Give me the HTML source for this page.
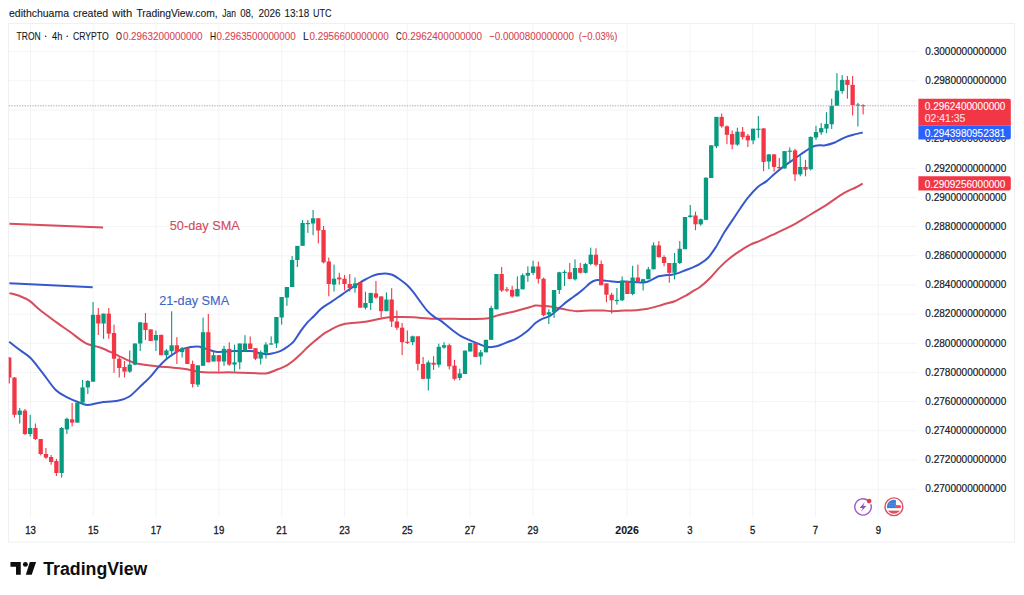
<!DOCTYPE html><html><head><meta charset="utf-8"><style>html,body{margin:0;padding:0;background:#fff;width:1024px;height:595px;overflow:hidden}svg{display:block}</style></head><body>
<svg width="1024" height="595" viewBox="0 0 1024 595">
<rect width="1024" height="595" fill="#fff"/>
<rect x="8.5" y="23.5" width="1006" height="518.5" fill="none" stroke="#eff0f2" stroke-width="1"/>
<g stroke="#f3f4f6" stroke-width="1"><line x1="9" y1="51.6" x2="917" y2="51.6"/><line x1="9" y1="80.8" x2="917" y2="80.8"/><line x1="9" y1="109.9" x2="917" y2="109.9"/><line x1="9" y1="139.1" x2="917" y2="139.1"/><line x1="9" y1="168.3" x2="917" y2="168.3"/><line x1="9" y1="197.5" x2="917" y2="197.5"/><line x1="9" y1="226.6" x2="917" y2="226.6"/><line x1="9" y1="255.8" x2="917" y2="255.8"/><line x1="9" y1="285.0" x2="917" y2="285.0"/><line x1="9" y1="314.1" x2="917" y2="314.1"/><line x1="9" y1="343.3" x2="917" y2="343.3"/><line x1="9" y1="372.5" x2="917" y2="372.5"/><line x1="9" y1="401.6" x2="917" y2="401.6"/><line x1="9" y1="430.8" x2="917" y2="430.8"/><line x1="9" y1="460.0" x2="917" y2="460.0"/><line x1="9" y1="489.2" x2="917" y2="489.2"/><line x1="30.5" y1="24" x2="30.5" y2="517"/><line x1="93.3" y1="24" x2="93.3" y2="517"/><line x1="156.1" y1="24" x2="156.1" y2="517"/><line x1="218.9" y1="24" x2="218.9" y2="517"/><line x1="281.7" y1="24" x2="281.7" y2="517"/><line x1="344.5" y1="24" x2="344.5" y2="517"/><line x1="407.3" y1="24" x2="407.3" y2="517"/><line x1="470.1" y1="24" x2="470.1" y2="517"/><line x1="532.9" y1="24" x2="532.9" y2="517"/><line x1="627.1" y1="24" x2="627.1" y2="517"/><line x1="689.9" y1="24" x2="689.9" y2="517"/><line x1="752.7" y1="24" x2="752.7" y2="517"/><line x1="815.5" y1="24" x2="815.5" y2="517"/><line x1="878.3" y1="24" x2="878.3" y2="517"/></g>
<line x1="9.4" y1="223.8" x2="103.1" y2="227.6" stroke="#d84c5c" stroke-width="2"/>
<line x1="9.4" y1="283.2" x2="92.7" y2="287.2" stroke="#3658cc" stroke-width="2"/>
<text stroke="#d04b5b" stroke-width="0.1" x="169.8" y="229.7" font-size="13" fill="#d04b5b" textLength="70" lengthAdjust="spacingAndGlyphs" font-family="Liberation Sans, sans-serif">50-day SMA</text>
<text stroke="#3e66c4" stroke-width="0.1" x="159.2" y="304.5" font-size="13" fill="#3e66c4" textLength="70" lengthAdjust="spacingAndGlyphs" font-family="Liberation Sans, sans-serif">21-day SMA</text>
<path d="M9.4 293.1 C11.2 293.6 16.8 294.9 20.2 296.2 C23.6 297.5 26.2 298.5 29.6 300.9 C33.0 303.2 35.8 306.7 40.3 310.3 C44.8 313.9 51.6 318.8 56.5 322.4 C61.4 326.0 65.0 328.3 69.9 331.8 C74.8 335.3 80.8 340.7 86.0 343.3 C91.2 345.9 95.5 345.7 100.8 347.7 C106.1 349.7 112.0 352.8 117.6 355.3 C123.2 357.8 129.1 361.2 134.5 362.9 C139.9 364.6 144.6 364.7 150.0 365.4 C155.4 366.1 161.2 366.6 166.8 367.1 C172.4 367.7 178.0 367.9 183.6 368.7 C189.2 369.5 194.8 371.5 200.4 372.1 C206.0 372.7 211.6 372.3 217.2 372.4 C222.8 372.4 228.4 372.3 234.0 372.4 C239.6 372.5 245.5 372.7 250.8 372.9 C256.1 373.1 261.8 373.9 266.0 373.4 C270.2 372.9 272.6 371.4 276.1 370.0 C279.6 368.6 284.0 366.9 286.9 365.3 C289.8 363.7 291.4 362.4 293.6 360.6 C295.8 358.8 298.1 356.6 300.3 354.5 C302.5 352.4 304.8 349.9 307.0 347.8 C309.2 345.7 311.6 343.6 313.8 341.7 C316.1 339.8 318.6 337.9 320.5 336.4 C322.4 334.9 323.1 334.1 325.0 332.9 C326.9 331.7 329.5 330.4 331.7 329.2 C333.9 328.0 336.1 326.8 338.4 325.9 C340.6 325.0 342.9 324.3 345.2 323.8 C347.4 323.3 349.7 323.1 351.9 322.9 C354.1 322.7 356.4 322.7 358.6 322.5 C360.8 322.3 363.1 322.1 365.3 321.8 C367.5 321.5 369.8 320.9 372.0 320.5 C374.2 320.1 376.6 319.6 378.8 319.1 C381.1 318.7 383.3 318.1 385.5 317.8 C387.7 317.5 390.0 317.2 392.2 317.1 C394.4 317.0 395.4 317.1 398.9 317.1 C402.4 317.1 407.6 317.0 413.4 317.3 C419.2 317.6 426.9 318.5 433.6 318.7 C440.3 318.9 448.2 318.6 453.8 318.7 C459.4 318.8 463.7 319.1 467.2 319.1 C470.7 319.1 471.5 319.0 475.0 318.9 C478.5 318.8 485.0 318.6 488.4 318.2 C491.8 317.8 492.9 316.9 495.2 316.2 C497.4 315.5 498.5 315.0 501.9 314.2 C505.2 313.4 510.8 312.3 515.3 311.2 C519.8 310.1 525.4 308.4 528.8 307.5 C532.2 306.6 533.3 305.8 535.5 305.5 C537.7 305.2 539.8 305.7 542.2 305.9 C544.6 306.1 547.6 306.2 550.0 306.5 C552.4 306.8 554.5 307.4 556.7 307.8 C558.9 308.2 560.0 308.5 563.4 309.1 C566.8 309.7 572.4 311.0 576.9 311.2 C581.4 311.4 585.8 310.6 590.3 310.5 C594.8 310.4 600.2 310.4 603.8 310.5 C607.4 310.6 608.3 311.2 611.8 311.2 C615.3 311.2 620.6 310.8 625.0 310.6 C629.4 310.4 634.6 310.2 638.4 309.9 C642.2 309.6 644.4 309.5 647.8 308.8 C651.2 308.1 655.7 306.7 658.6 305.9 C661.5 305.1 662.6 304.6 665.3 303.8 C668.0 303.0 671.3 302.5 674.7 301.2 C678.1 299.9 682.6 297.4 685.5 295.8 C688.4 294.2 689.8 293.2 692.2 291.7 C694.6 290.2 697.0 289.3 700.0 287.0 C703.0 284.7 706.7 281.4 710.1 278.0 C713.5 274.6 716.8 270.3 720.2 266.9 C723.6 263.5 726.9 260.5 730.3 257.8 C733.7 255.1 737.0 252.9 740.4 250.7 C743.8 248.5 747.0 246.4 750.4 244.7 C753.8 243.0 757.1 242.1 760.5 240.6 C763.9 239.1 768.2 236.7 770.6 235.6 C773.0 234.5 772.6 235.0 775.0 233.9 C777.4 232.8 781.7 230.6 785.1 228.9 C788.5 227.2 791.9 225.7 795.2 223.8 C798.6 222.0 801.9 219.8 805.2 217.8 C808.6 215.8 811.9 213.7 815.3 211.7 C818.7 209.7 822.0 207.9 825.4 205.7 C828.8 203.5 832.1 200.8 835.5 198.6 C838.9 196.3 842.2 194.0 845.6 192.2 C849.0 190.3 852.8 188.9 855.6 187.5 C858.5 186.1 861.5 184.2 862.7 183.5" fill="none" stroke="#d84c5c" stroke-width="2" stroke-linejoin="round"/>
<path d="M9.2 341.8 C11.0 343.2 16.7 347.6 20.2 350.3 C23.7 353.0 26.7 354.2 30.3 357.8 C33.9 361.4 37.8 366.8 42.0 372.1 C46.2 377.4 51.3 385.5 55.5 389.7 C59.7 393.9 63.3 395.2 67.2 397.3 C71.1 399.4 75.6 401.1 79.0 402.4 C82.4 403.7 83.8 404.9 87.4 404.9 C91.0 404.9 95.8 403.1 100.8 402.4 C105.8 401.7 112.8 401.7 117.6 400.7 C122.4 399.7 125.2 399.3 129.4 396.5 C133.6 393.7 139.5 387.1 142.9 383.9 C146.3 380.7 147.4 379.9 150.0 377.1 C152.6 374.3 155.6 370.2 158.4 367.1 C161.2 364.0 164.0 361.1 166.8 358.7 C169.6 356.3 172.4 354.5 175.2 352.8 C178.0 351.1 179.9 349.6 183.6 348.6 C187.2 347.6 193.4 346.6 197.1 346.6 C200.8 346.6 202.2 347.7 205.5 348.6 C208.8 349.5 212.4 351.5 217.2 351.9 C221.9 352.3 228.4 351.2 234.0 351.1 C239.6 351.0 246.5 350.8 250.8 351.1 C255.1 351.5 257.4 352.7 260.0 353.2 C262.6 353.7 264.5 354.2 266.7 354.2 C268.9 354.2 271.1 353.7 273.4 353.2 C275.6 352.7 277.9 352.2 280.2 351.2 C282.4 350.2 284.7 348.7 286.9 347.1 C289.1 345.5 291.4 344.3 293.6 341.7 C295.8 339.1 298.1 334.8 300.3 331.7 C302.5 328.6 304.8 325.5 307.0 322.9 C309.2 320.3 311.6 318.5 313.8 316.2 C316.1 313.9 318.6 311.0 320.5 309.3 C322.4 307.6 323.1 307.2 325.0 305.9 C326.9 304.6 329.5 303.2 331.7 301.7 C333.9 300.2 336.1 298.6 338.4 297.0 C340.6 295.4 342.9 293.9 345.2 292.3 C347.4 290.7 349.7 289.1 351.9 287.6 C354.1 286.1 356.4 284.9 358.6 283.5 C360.8 282.1 363.1 280.7 365.3 279.5 C367.5 278.3 369.8 277.0 372.0 276.1 C374.2 275.2 376.6 274.6 378.8 274.1 C381.1 273.7 383.3 273.3 385.5 273.4 C387.7 273.5 390.0 273.9 392.2 274.8 C394.4 275.7 396.5 277.1 398.9 278.8 C401.3 280.5 404.3 282.6 406.7 284.8 C409.1 287.0 411.1 289.4 413.4 292.2 C415.6 295.0 417.9 298.6 420.2 301.6 C422.4 304.6 424.7 307.8 426.9 310.3 C429.1 312.8 431.4 314.7 433.6 316.4 C435.8 318.1 438.1 318.8 440.3 320.4 C442.5 322.0 444.8 324.0 447.0 325.8 C449.2 327.6 451.6 329.5 453.8 331.2 C456.1 332.9 458.3 334.6 460.5 335.9 C462.7 337.2 464.8 338.1 467.2 339.2 C469.6 340.3 472.6 341.3 475.0 342.3 C477.4 343.3 479.5 344.3 481.7 345.1 C483.9 345.9 486.1 346.9 488.4 347.1 C490.6 347.3 492.9 346.9 495.2 346.5 C497.4 346.1 499.7 345.2 501.9 344.4 C504.1 343.6 506.4 342.6 508.6 341.7 C510.8 340.8 513.1 340.2 515.3 339.1 C517.5 338.0 519.8 336.6 522.0 335.0 C524.2 333.4 526.5 331.7 528.8 329.7 C531.0 327.7 533.3 324.7 535.5 322.9 C537.7 321.1 539.8 320.1 542.2 318.9 C544.6 317.7 547.6 317.3 550.0 315.9 C552.4 314.5 554.5 312.4 556.7 310.5 C558.9 308.6 561.1 306.3 563.4 304.4 C565.6 302.5 568.0 300.8 570.2 299.1 C572.5 297.4 574.7 296.1 576.9 294.4 C579.1 292.7 581.4 290.9 583.6 289.0 C585.8 287.1 588.3 284.4 590.3 282.9 C592.3 281.4 593.9 280.6 595.7 280.2 C597.5 279.8 598.6 280.0 601.1 280.2 C603.6 280.4 607.8 281.0 610.5 281.3 C613.2 281.6 614.8 281.9 617.2 281.9 C619.6 281.9 622.6 281.4 625.0 281.4 C627.4 281.4 629.5 281.8 631.7 281.9 C633.9 282.0 636.1 282.2 638.4 282.3 C640.6 282.4 643.0 282.7 645.2 282.3 C647.5 281.9 649.7 280.7 651.9 279.7 C654.1 278.7 656.4 277.1 658.6 276.3 C660.8 275.6 663.1 275.5 665.3 275.2 C667.5 274.9 669.8 275.1 672.0 274.7 C674.2 274.3 676.5 273.6 678.8 272.9 C681.0 272.1 683.3 271.1 685.5 270.2 C687.7 269.3 689.8 268.7 692.2 267.6 C694.6 266.5 697.4 265.4 700.0 263.8 C702.6 262.2 705.4 260.7 708.1 257.8 C710.8 255.0 713.4 250.9 716.1 246.7 C718.8 242.5 721.5 237.0 724.2 232.6 C726.9 228.2 729.6 224.4 732.3 220.4 C735.0 216.4 737.7 212.2 740.4 208.3 C743.1 204.4 745.5 200.7 748.4 197.2 C751.2 193.7 754.5 189.9 757.5 187.2 C760.5 184.5 763.7 183.4 766.6 181.1 C769.5 178.8 771.9 176.0 775.0 173.4 C778.1 170.8 781.7 167.9 785.1 165.4 C788.5 162.9 791.9 160.7 795.2 158.3 C798.6 156.0 801.9 153.4 805.2 151.3 C808.6 149.2 811.9 146.8 815.3 145.8 C818.7 144.8 822.0 145.8 825.4 145.2 C828.8 144.6 832.1 143.5 835.5 142.2 C838.9 140.8 842.2 138.4 845.6 137.1 C849.0 135.8 852.8 134.9 855.6 134.1 C858.5 133.3 861.5 132.8 862.7 132.5" fill="none" stroke="#3658cc" stroke-width="2" stroke-linejoin="round"/>
<g><rect x="8.70" y="357.0" width="1.1" height="26.5" fill="#f23645"/><rect x="9.00" y="357.6" width="2.40" height="20.0" fill="#f23645"/><rect x="13.93" y="377.0" width="1.1" height="40.6" fill="#f23645"/><rect x="12.33" y="377.6" width="4.30" height="37.2" fill="#f23645"/><rect x="19.17" y="408.0" width="1.1" height="15.5" fill="#089981"/><rect x="17.57" y="410.6" width="4.30" height="4.2" fill="#089981"/><rect x="24.41" y="409.0" width="1.1" height="26.0" fill="#f23645"/><rect x="22.81" y="410.6" width="4.30" height="23.4" fill="#f23645"/><rect x="29.65" y="414.8" width="1.1" height="21.7" fill="#089981"/><rect x="28.05" y="428.0" width="4.30" height="6.0" fill="#089981"/><rect x="34.89" y="423.5" width="1.1" height="16.5" fill="#f23645"/><rect x="33.29" y="428.0" width="4.30" height="11.0" fill="#f23645"/><rect x="40.13" y="439.0" width="1.1" height="16.3" fill="#f23645"/><rect x="38.53" y="439.0" width="4.30" height="15.0" fill="#f23645"/><rect x="45.37" y="448.0" width="1.1" height="10.8" fill="#f23645"/><rect x="43.77" y="454.0" width="4.30" height="3.6" fill="#f23645"/><rect x="50.60" y="455.0" width="1.1" height="9.7" fill="#f23645"/><rect x="49.00" y="457.0" width="4.30" height="5.0" fill="#f23645"/><rect x="55.84" y="458.8" width="1.1" height="17.2" fill="#f23645"/><rect x="54.24" y="461.0" width="4.30" height="12.0" fill="#f23645"/><rect x="61.08" y="427.0" width="1.1" height="50.6" fill="#089981"/><rect x="59.48" y="428.0" width="4.30" height="45.0" fill="#089981"/><rect x="66.32" y="417.6" width="1.1" height="16.4" fill="#089981"/><rect x="64.72" y="418.8" width="4.30" height="10.6" fill="#089981"/><rect x="71.56" y="403.0" width="1.1" height="23.4" fill="#f23645"/><rect x="69.96" y="419.3" width="4.30" height="3.3" fill="#f23645"/><rect x="76.80" y="402.6" width="1.1" height="20.0" fill="#089981"/><rect x="75.20" y="402.6" width="4.30" height="20.0" fill="#089981"/><rect x="82.04" y="380.0" width="1.1" height="24.5" fill="#089981"/><rect x="80.44" y="387.4" width="4.30" height="15.2" fill="#089981"/><rect x="87.27" y="380.0" width="1.1" height="14.0" fill="#089981"/><rect x="85.67" y="381.0" width="4.30" height="6.4" fill="#089981"/><rect x="92.51" y="302.0" width="1.1" height="79.7" fill="#089981"/><rect x="90.91" y="314.8" width="4.30" height="66.9" fill="#089981"/><rect x="97.75" y="308.0" width="1.1" height="27.0" fill="#f23645"/><rect x="96.15" y="314.8" width="4.30" height="8.7" fill="#f23645"/><rect x="102.99" y="313.6" width="1.1" height="25.2" fill="#089981"/><rect x="101.39" y="313.6" width="4.30" height="9.9" fill="#089981"/><rect x="108.23" y="308.0" width="1.1" height="30.8" fill="#f23645"/><rect x="106.63" y="313.6" width="4.30" height="20.0" fill="#f23645"/><rect x="113.47" y="324.7" width="1.1" height="48.1" fill="#f23645"/><rect x="111.87" y="333.0" width="4.30" height="25.7" fill="#f23645"/><rect x="118.70" y="356.0" width="1.1" height="21.5" fill="#f23645"/><rect x="117.10" y="358.7" width="4.30" height="9.3" fill="#f23645"/><rect x="123.94" y="361.0" width="1.1" height="16.5" fill="#f23645"/><rect x="122.34" y="367.0" width="4.30" height="4.6" fill="#f23645"/><rect x="129.18" y="350.5" width="1.1" height="22.3" fill="#089981"/><rect x="127.58" y="364.6" width="4.30" height="7.0" fill="#089981"/><rect x="134.42" y="343.5" width="1.1" height="21.8" fill="#089981"/><rect x="132.82" y="343.5" width="4.30" height="21.1" fill="#089981"/><rect x="139.66" y="322.3" width="1.1" height="28.7" fill="#089981"/><rect x="138.06" y="322.3" width="4.30" height="21.2" fill="#089981"/><rect x="144.90" y="313.0" width="1.1" height="27.0" fill="#f23645"/><rect x="143.30" y="322.8" width="4.30" height="7.2" fill="#f23645"/><rect x="150.14" y="329.4" width="1.1" height="11.6" fill="#f23645"/><rect x="148.54" y="329.4" width="4.30" height="11.6" fill="#f23645"/><rect x="155.37" y="330.5" width="1.1" height="20.5" fill="#089981"/><rect x="153.77" y="335.0" width="4.30" height="5.4" fill="#089981"/><rect x="160.61" y="334.8" width="1.1" height="20.4" fill="#f23645"/><rect x="159.01" y="334.8" width="4.30" height="20.4" fill="#f23645"/><rect x="165.85" y="349.0" width="1.1" height="9.7" fill="#089981"/><rect x="164.25" y="350.5" width="4.30" height="4.7" fill="#089981"/><rect x="171.09" y="311.3" width="1.1" height="45.1" fill="#089981"/><rect x="169.49" y="345.3" width="4.30" height="5.9" fill="#089981"/><rect x="176.33" y="337.1" width="1.1" height="26.9" fill="#f23645"/><rect x="174.73" y="345.3" width="4.30" height="6.8" fill="#f23645"/><rect x="181.57" y="347.0" width="1.1" height="10.5" fill="#089981"/><rect x="179.97" y="348.2" width="4.30" height="3.9" fill="#089981"/><rect x="186.80" y="348.2" width="1.1" height="15.8" fill="#f23645"/><rect x="185.20" y="348.2" width="4.30" height="15.8" fill="#f23645"/><rect x="192.04" y="360.6" width="1.1" height="26.8" fill="#f23645"/><rect x="190.44" y="364.0" width="4.30" height="20.0" fill="#f23645"/><rect x="197.28" y="365.3" width="1.1" height="21.7" fill="#089981"/><rect x="195.68" y="365.3" width="4.30" height="19.3" fill="#089981"/><rect x="202.52" y="317.6" width="1.1" height="48.2" fill="#089981"/><rect x="200.92" y="332.2" width="4.30" height="33.6" fill="#089981"/><rect x="207.76" y="314.0" width="1.1" height="48.3" fill="#f23645"/><rect x="206.16" y="332.2" width="4.30" height="30.1" fill="#f23645"/><rect x="213.00" y="351.0" width="1.1" height="10.5" fill="#089981"/><rect x="211.40" y="355.2" width="4.30" height="6.3" fill="#089981"/><rect x="218.24" y="355.0" width="1.1" height="16.6" fill="#f23645"/><rect x="216.64" y="355.2" width="4.30" height="6.3" fill="#f23645"/><rect x="223.47" y="345.8" width="1.1" height="20.0" fill="#089981"/><rect x="221.87" y="348.9" width="4.30" height="12.6" fill="#089981"/><rect x="228.71" y="342.3" width="1.1" height="23.5" fill="#f23645"/><rect x="227.11" y="348.9" width="4.30" height="15.7" fill="#f23645"/><rect x="233.95" y="344.6" width="1.1" height="27.0" fill="#089981"/><rect x="232.35" y="362.3" width="4.30" height="2.3" fill="#089981"/><rect x="239.19" y="343.5" width="1.1" height="25.8" fill="#089981"/><rect x="237.59" y="343.5" width="4.30" height="18.8" fill="#089981"/><rect x="244.43" y="335.2" width="1.1" height="16.0" fill="#089981"/><rect x="242.83" y="343.5" width="4.30" height="7.7" fill="#089981"/><rect x="249.67" y="336.4" width="1.1" height="12.5" fill="#f23645"/><rect x="248.07" y="343.5" width="4.30" height="5.4" fill="#f23645"/><rect x="254.91" y="348.2" width="1.1" height="11.8" fill="#f23645"/><rect x="253.31" y="348.2" width="4.30" height="10.5" fill="#f23645"/><rect x="260.14" y="350.4" width="1.1" height="14.1" fill="#089981"/><rect x="258.54" y="352.3" width="4.30" height="6.3" fill="#089981"/><rect x="265.38" y="342.2" width="1.1" height="16.4" fill="#089981"/><rect x="263.78" y="344.5" width="4.30" height="8.3" fill="#089981"/><rect x="270.62" y="336.3" width="1.1" height="8.2" fill="#089981"/><rect x="269.02" y="343.4" width="4.30" height="1.2" fill="#089981"/><rect x="275.86" y="317.0" width="1.1" height="31.0" fill="#089981"/><rect x="274.26" y="317.0" width="4.30" height="26.4" fill="#089981"/><rect x="281.10" y="297.0" width="1.1" height="27.6" fill="#089981"/><rect x="279.50" y="297.0" width="4.30" height="20.5" fill="#089981"/><rect x="286.34" y="287.0" width="1.1" height="18.8" fill="#089981"/><rect x="284.74" y="287.0" width="4.30" height="10.6" fill="#089981"/><rect x="291.57" y="256.0" width="1.1" height="31.0" fill="#089981"/><rect x="289.98" y="260.0" width="4.30" height="27.0" fill="#089981"/><rect x="296.81" y="245.9" width="1.1" height="21.1" fill="#089981"/><rect x="295.21" y="245.9" width="4.30" height="14.1" fill="#089981"/><rect x="302.05" y="220.0" width="1.1" height="25.8" fill="#089981"/><rect x="300.45" y="223.0" width="4.30" height="22.8" fill="#089981"/><rect x="307.29" y="220.0" width="1.1" height="12.9" fill="#089981"/><rect x="305.69" y="223.0" width="4.30" height="1.2" fill="#089981"/><rect x="312.53" y="209.9" width="1.1" height="25.3" fill="#089981"/><rect x="310.93" y="218.3" width="4.30" height="5.2" fill="#089981"/><rect x="317.77" y="218.3" width="1.1" height="25.2" fill="#f23645"/><rect x="316.17" y="218.3" width="4.30" height="12.2" fill="#f23645"/><rect x="323.01" y="225.8" width="1.1" height="37.6" fill="#f23645"/><rect x="321.41" y="230.0" width="4.30" height="32.3" fill="#f23645"/><rect x="328.24" y="257.6" width="1.1" height="38.7" fill="#f23645"/><rect x="326.64" y="261.5" width="4.30" height="22.5" fill="#f23645"/><rect x="333.48" y="264.6" width="1.1" height="27.0" fill="#089981"/><rect x="331.88" y="278.7" width="4.30" height="5.9" fill="#089981"/><rect x="338.72" y="272.8" width="1.1" height="11.8" fill="#f23645"/><rect x="337.12" y="277.5" width="4.30" height="1.9" fill="#f23645"/><rect x="343.96" y="275.0" width="1.1" height="15.4" fill="#f23645"/><rect x="342.36" y="278.7" width="4.30" height="5.3" fill="#f23645"/><rect x="349.20" y="274.0" width="1.1" height="17.6" fill="#f23645"/><rect x="347.60" y="284.0" width="4.30" height="4.1" fill="#f23645"/><rect x="354.44" y="277.5" width="1.1" height="15.3" fill="#089981"/><rect x="352.84" y="283.4" width="4.30" height="4.7" fill="#089981"/><rect x="359.68" y="282.3" width="1.1" height="25.4" fill="#f23645"/><rect x="358.08" y="282.3" width="4.30" height="25.4" fill="#f23645"/><rect x="364.91" y="291.7" width="1.1" height="17.6" fill="#089981"/><rect x="363.31" y="303.0" width="4.30" height="4.7" fill="#089981"/><rect x="370.15" y="292.9" width="1.1" height="17.1" fill="#089981"/><rect x="368.55" y="292.9" width="4.30" height="10.1" fill="#089981"/><rect x="375.39" y="281.0" width="1.1" height="17.8" fill="#f23645"/><rect x="373.79" y="293.4" width="4.30" height="4.2" fill="#f23645"/><rect x="380.63" y="296.4" width="1.1" height="21.2" fill="#f23645"/><rect x="379.03" y="296.4" width="4.30" height="14.8" fill="#f23645"/><rect x="385.87" y="292.4" width="1.1" height="18.8" fill="#089981"/><rect x="384.27" y="299.5" width="4.30" height="11.7" fill="#089981"/><rect x="391.11" y="288.2" width="1.1" height="38.8" fill="#f23645"/><rect x="389.51" y="299.5" width="4.30" height="22.0" fill="#f23645"/><rect x="396.34" y="310.5" width="1.1" height="19.5" fill="#f23645"/><rect x="394.75" y="321.5" width="4.30" height="6.2" fill="#f23645"/><rect x="401.58" y="323.0" width="1.1" height="32.1" fill="#f23645"/><rect x="399.98" y="327.7" width="4.30" height="14.5" fill="#f23645"/><rect x="406.82" y="330.5" width="1.1" height="13.5" fill="#f23645"/><rect x="405.22" y="341.7" width="4.30" height="1.2" fill="#f23645"/><rect x="412.06" y="335.6" width="1.1" height="9.4" fill="#089981"/><rect x="410.46" y="336.3" width="4.30" height="5.9" fill="#089981"/><rect x="417.30" y="336.3" width="1.1" height="34.1" fill="#f23645"/><rect x="415.70" y="336.3" width="4.30" height="27.5" fill="#f23645"/><rect x="422.54" y="357.0" width="1.1" height="22.3" fill="#f23645"/><rect x="420.94" y="364.0" width="4.30" height="14.8" fill="#f23645"/><rect x="427.78" y="360.5" width="1.1" height="30.0" fill="#089981"/><rect x="426.18" y="362.4" width="4.30" height="16.4" fill="#089981"/><rect x="433.01" y="356.2" width="1.1" height="13.7" fill="#f23645"/><rect x="431.41" y="362.8" width="4.30" height="1.9" fill="#f23645"/><rect x="438.25" y="343.6" width="1.1" height="23.9" fill="#089981"/><rect x="436.65" y="346.8" width="4.30" height="17.9" fill="#089981"/><rect x="443.49" y="342.2" width="1.1" height="6.5" fill="#089981"/><rect x="441.89" y="345.2" width="4.30" height="2.4" fill="#089981"/><rect x="448.73" y="343.6" width="1.1" height="25.8" fill="#f23645"/><rect x="447.13" y="345.2" width="4.30" height="21.1" fill="#f23645"/><rect x="453.97" y="360.0" width="1.1" height="20.4" fill="#f23645"/><rect x="452.37" y="365.6" width="4.30" height="13.2" fill="#f23645"/><rect x="459.21" y="368.7" width="1.1" height="11.7" fill="#089981"/><rect x="457.61" y="373.4" width="4.30" height="4.6" fill="#089981"/><rect x="464.45" y="350.6" width="1.1" height="23.4" fill="#089981"/><rect x="462.85" y="350.6" width="4.30" height="23.4" fill="#089981"/><rect x="469.68" y="342.9" width="1.1" height="8.6" fill="#089981"/><rect x="468.08" y="342.9" width="4.30" height="8.6" fill="#089981"/><rect x="474.92" y="342.9" width="1.1" height="14.1" fill="#f23645"/><rect x="473.32" y="342.9" width="4.30" height="14.1" fill="#f23645"/><rect x="480.16" y="350.0" width="1.1" height="14.7" fill="#089981"/><rect x="478.56" y="352.3" width="4.30" height="4.2" fill="#089981"/><rect x="485.40" y="339.8" width="1.1" height="12.5" fill="#089981"/><rect x="483.80" y="339.8" width="4.30" height="12.5" fill="#089981"/><rect x="490.64" y="305.8" width="1.1" height="34.0" fill="#089981"/><rect x="489.04" y="308.0" width="4.30" height="31.8" fill="#089981"/><rect x="495.88" y="274.0" width="1.1" height="35.3" fill="#089981"/><rect x="494.28" y="274.0" width="4.30" height="35.3" fill="#089981"/><rect x="501.12" y="267.0" width="1.1" height="25.0" fill="#f23645"/><rect x="499.52" y="274.0" width="4.30" height="16.5" fill="#f23645"/><rect x="506.35" y="287.0" width="1.1" height="5.0" fill="#f23645"/><rect x="504.75" y="289.3" width="4.30" height="1.2" fill="#f23645"/><rect x="511.59" y="285.8" width="1.1" height="11.8" fill="#f23645"/><rect x="509.99" y="289.8" width="4.30" height="6.6" fill="#f23645"/><rect x="516.83" y="276.4" width="1.1" height="20.0" fill="#089981"/><rect x="515.23" y="288.9" width="4.30" height="7.5" fill="#089981"/><rect x="522.07" y="273.4" width="1.1" height="15.9" fill="#089981"/><rect x="520.47" y="275.2" width="4.30" height="14.1" fill="#089981"/><rect x="527.31" y="266.3" width="1.1" height="15.5" fill="#089981"/><rect x="525.71" y="272.9" width="4.30" height="2.8" fill="#089981"/><rect x="532.55" y="260.7" width="1.1" height="14.1" fill="#089981"/><rect x="530.95" y="266.5" width="4.30" height="6.4" fill="#089981"/><rect x="537.78" y="261.6" width="1.1" height="21.9" fill="#f23645"/><rect x="536.18" y="266.5" width="4.30" height="12.3" fill="#f23645"/><rect x="543.02" y="277.6" width="1.1" height="38.8" fill="#f23645"/><rect x="541.42" y="278.8" width="4.30" height="36.4" fill="#f23645"/><rect x="548.26" y="309.3" width="1.1" height="14.7" fill="#089981"/><rect x="546.66" y="312.2" width="4.30" height="2.4" fill="#089981"/><rect x="553.50" y="290.0" width="1.1" height="28.0" fill="#089981"/><rect x="551.90" y="290.0" width="4.30" height="22.2" fill="#089981"/><rect x="558.74" y="271.8" width="1.1" height="22.2" fill="#089981"/><rect x="557.14" y="272.3" width="4.30" height="17.7" fill="#089981"/><rect x="563.98" y="270.0" width="1.1" height="16.0" fill="#089981"/><rect x="562.38" y="271.8" width="4.30" height="1.2" fill="#089981"/><rect x="569.22" y="262.9" width="1.1" height="16.4" fill="#f23645"/><rect x="567.62" y="272.3" width="4.30" height="6.6" fill="#f23645"/><rect x="574.45" y="259.4" width="1.1" height="21.1" fill="#089981"/><rect x="572.85" y="268.0" width="4.30" height="11.3" fill="#089981"/><rect x="579.69" y="262.9" width="1.1" height="10.6" fill="#f23645"/><rect x="578.09" y="268.0" width="4.30" height="4.8" fill="#f23645"/><rect x="584.93" y="262.9" width="1.1" height="10.6" fill="#089981"/><rect x="583.33" y="264.0" width="4.30" height="8.8" fill="#089981"/><rect x="590.17" y="247.6" width="1.1" height="17.6" fill="#089981"/><rect x="588.57" y="254.7" width="4.30" height="9.3" fill="#089981"/><rect x="595.41" y="248.3" width="1.1" height="18.1" fill="#f23645"/><rect x="593.81" y="254.7" width="4.30" height="10.1" fill="#f23645"/><rect x="600.65" y="260.5" width="1.1" height="24.7" fill="#f23645"/><rect x="599.05" y="264.0" width="4.30" height="21.2" fill="#f23645"/><rect x="605.89" y="283.4" width="1.1" height="18.8" fill="#f23645"/><rect x="604.29" y="283.4" width="4.30" height="11.3" fill="#f23645"/><rect x="611.12" y="292.8" width="1.1" height="20.7" fill="#f23645"/><rect x="609.52" y="294.7" width="4.30" height="5.6" fill="#f23645"/><rect x="616.36" y="288.1" width="1.1" height="16.5" fill="#089981"/><rect x="614.76" y="299.9" width="4.30" height="1.2" fill="#089981"/><rect x="621.60" y="276.4" width="1.1" height="24.6" fill="#089981"/><rect x="620.00" y="280.6" width="4.30" height="19.7" fill="#089981"/><rect x="626.84" y="281.0" width="1.1" height="13.0" fill="#f23645"/><rect x="625.24" y="281.0" width="4.30" height="13.0" fill="#f23645"/><rect x="632.08" y="265.8" width="1.1" height="29.4" fill="#089981"/><rect x="630.48" y="277.5" width="4.30" height="16.5" fill="#089981"/><rect x="637.32" y="264.6" width="1.1" height="17.6" fill="#f23645"/><rect x="635.72" y="277.5" width="4.30" height="4.0" fill="#f23645"/><rect x="642.55" y="278.7" width="1.1" height="11.8" fill="#089981"/><rect x="640.95" y="279.2" width="4.30" height="3.0" fill="#089981"/><rect x="647.79" y="267.0" width="1.1" height="12.2" fill="#089981"/><rect x="646.19" y="269.3" width="4.30" height="9.9" fill="#089981"/><rect x="653.03" y="242.3" width="1.1" height="27.0" fill="#089981"/><rect x="651.43" y="245.4" width="4.30" height="23.9" fill="#089981"/><rect x="658.27" y="241.1" width="1.1" height="16.5" fill="#f23645"/><rect x="656.67" y="245.4" width="4.30" height="11.7" fill="#f23645"/><rect x="663.51" y="255.3" width="1.1" height="11.0" fill="#f23645"/><rect x="661.91" y="257.0" width="4.30" height="6.0" fill="#f23645"/><rect x="668.75" y="263.0" width="1.1" height="19.7" fill="#f23645"/><rect x="667.15" y="263.0" width="4.30" height="9.8" fill="#f23645"/><rect x="673.99" y="253.0" width="1.1" height="26.4" fill="#089981"/><rect x="672.39" y="263.0" width="4.30" height="9.8" fill="#089981"/><rect x="679.22" y="241.0" width="1.1" height="23.0" fill="#089981"/><rect x="677.62" y="248.8" width="4.30" height="14.2" fill="#089981"/><rect x="684.46" y="217.0" width="1.1" height="32.2" fill="#089981"/><rect x="682.86" y="217.0" width="4.30" height="32.2" fill="#089981"/><rect x="689.70" y="205.0" width="1.1" height="12.7" fill="#089981"/><rect x="688.10" y="215.5" width="4.30" height="1.5" fill="#089981"/><rect x="694.94" y="211.6" width="1.1" height="18.6" fill="#f23645"/><rect x="693.34" y="215.5" width="4.30" height="8.8" fill="#f23645"/><rect x="700.18" y="218.6" width="1.1" height="7.2" fill="#089981"/><rect x="698.58" y="219.2" width="4.30" height="5.1" fill="#089981"/><rect x="705.42" y="177.5" width="1.1" height="42.4" fill="#089981"/><rect x="703.82" y="177.7" width="4.30" height="42.2" fill="#089981"/><rect x="710.66" y="145.3" width="1.1" height="32.7" fill="#089981"/><rect x="709.06" y="145.3" width="4.30" height="32.7" fill="#089981"/><rect x="715.89" y="116.9" width="1.1" height="31.3" fill="#089981"/><rect x="714.29" y="116.9" width="4.30" height="29.4" fill="#089981"/><rect x="721.13" y="113.6" width="1.1" height="14.1" fill="#f23645"/><rect x="719.53" y="116.9" width="4.30" height="9.4" fill="#f23645"/><rect x="726.37" y="125.4" width="1.1" height="18.8" fill="#f23645"/><rect x="724.77" y="126.3" width="4.30" height="8.5" fill="#f23645"/><rect x="731.61" y="130.5" width="1.1" height="18.8" fill="#f23645"/><rect x="730.01" y="134.0" width="4.30" height="10.6" fill="#f23645"/><rect x="736.85" y="127.7" width="1.1" height="18.1" fill="#089981"/><rect x="735.25" y="131.7" width="4.30" height="12.9" fill="#089981"/><rect x="742.09" y="127.0" width="1.1" height="12.5" fill="#f23645"/><rect x="740.49" y="131.7" width="4.30" height="5.4" fill="#f23645"/><rect x="747.32" y="134.0" width="1.1" height="13.0" fill="#f23645"/><rect x="745.72" y="135.7" width="4.30" height="4.7" fill="#f23645"/><rect x="752.56" y="128.7" width="1.1" height="15.5" fill="#089981"/><rect x="750.96" y="128.7" width="4.30" height="11.7" fill="#089981"/><rect x="757.80" y="116.0" width="1.1" height="22.0" fill="#089981"/><rect x="756.20" y="128.7" width="4.30" height="1.2" fill="#089981"/><rect x="763.04" y="128.1" width="1.1" height="43.1" fill="#f23645"/><rect x="761.44" y="128.4" width="4.30" height="33.5" fill="#f23645"/><rect x="768.28" y="154.0" width="1.1" height="15.2" fill="#089981"/><rect x="766.68" y="154.4" width="4.30" height="7.1" fill="#089981"/><rect x="773.52" y="154.0" width="1.1" height="17.6" fill="#f23645"/><rect x="771.92" y="154.4" width="4.30" height="12.5" fill="#f23645"/><rect x="778.76" y="158.0" width="1.1" height="11.0" fill="#f23645"/><rect x="777.16" y="167.0" width="4.30" height="1.2" fill="#f23645"/><rect x="783.99" y="151.1" width="1.1" height="17.4" fill="#089981"/><rect x="782.39" y="151.1" width="4.30" height="17.4" fill="#089981"/><rect x="789.23" y="147.4" width="1.1" height="14.1" fill="#089981"/><rect x="787.63" y="150.6" width="4.30" height="1.2" fill="#089981"/><rect x="794.47" y="148.8" width="1.1" height="32.2" fill="#f23645"/><rect x="792.87" y="150.4" width="4.30" height="24.0" fill="#f23645"/><rect x="799.71" y="155.1" width="1.1" height="21.2" fill="#089981"/><rect x="798.11" y="166.9" width="4.30" height="7.5" fill="#089981"/><rect x="804.95" y="159.8" width="1.1" height="16.5" fill="#f23645"/><rect x="803.35" y="166.9" width="4.30" height="2.8" fill="#f23645"/><rect x="810.19" y="136.3" width="1.1" height="34.1" fill="#089981"/><rect x="808.59" y="137.0" width="4.30" height="32.2" fill="#089981"/><rect x="815.43" y="125.8" width="1.1" height="14.1" fill="#089981"/><rect x="813.83" y="132.0" width="4.30" height="5.5" fill="#089981"/><rect x="820.66" y="123.1" width="1.1" height="11.8" fill="#089981"/><rect x="819.06" y="128.1" width="4.30" height="4.3" fill="#089981"/><rect x="825.90" y="112.2" width="1.1" height="21.0" fill="#089981"/><rect x="824.30" y="124.0" width="4.30" height="4.6" fill="#089981"/><rect x="831.14" y="98.7" width="1.1" height="30.3" fill="#089981"/><rect x="829.54" y="105.8" width="4.30" height="18.5" fill="#089981"/><rect x="836.38" y="73.1" width="1.1" height="32.7" fill="#089981"/><rect x="834.78" y="90.6" width="4.30" height="15.2" fill="#089981"/><rect x="841.62" y="75.1" width="1.1" height="18.6" fill="#089981"/><rect x="840.02" y="79.9" width="4.30" height="11.2" fill="#089981"/><rect x="846.86" y="76.0" width="1.1" height="22.7" fill="#f23645"/><rect x="845.26" y="79.9" width="4.30" height="5.0" fill="#f23645"/><rect x="852.09" y="76.0" width="1.1" height="39.5" fill="#f23645"/><rect x="850.49" y="84.9" width="4.30" height="20.2" fill="#f23645"/><rect x="857.33" y="102.9" width="1.1" height="23.6" fill="#089981"/><rect x="855.73" y="104.6" width="4.30" height="1.2" fill="#089981"/><rect x="862.57" y="104.3" width="1.1" height="10.1" fill="#f23645"/><rect x="860.97" y="105.1" width="4.30" height="1.2" fill="#f23645"/></g>
<line x1="9" y1="105.8" x2="917" y2="105.8" stroke="#c9959c" stroke-width="1" stroke-dasharray="1.3 1.3"/>
<text stroke="#131722" stroke-width="0.1" x="9.0" y="16.9" font-size="11" fill="#131722" textLength="60.0" lengthAdjust="spacingAndGlyphs" font-family="Liberation Sans, sans-serif">edithchuama</text>
<text stroke="#131722" stroke-width="0.1" x="73.0" y="16.9" font-size="11" fill="#131722" textLength="35.1" lengthAdjust="spacingAndGlyphs" font-family="Liberation Sans, sans-serif">created</text>
<text stroke="#131722" stroke-width="0.1" x="112.3" y="16.9" font-size="11" fill="#131722" textLength="19.9" lengthAdjust="spacingAndGlyphs" font-family="Liberation Sans, sans-serif">with</text>
<text stroke="#131722" stroke-width="0.1" x="136.4" y="16.9" font-size="11" fill="#131722" textLength="81.2" lengthAdjust="spacingAndGlyphs" font-family="Liberation Sans, sans-serif">TradingView.com,</text>
<text stroke="#131722" stroke-width="0.1" x="222.2" y="16.9" font-size="11" fill="#131722" textLength="13.7" lengthAdjust="spacingAndGlyphs" font-family="Liberation Sans, sans-serif">Jan</text>
<text stroke="#131722" stroke-width="0.1" x="240.2" y="16.9" font-size="11" fill="#131722" textLength="13.3" lengthAdjust="spacingAndGlyphs" font-family="Liberation Sans, sans-serif">08,</text>
<text stroke="#131722" stroke-width="0.1" x="258.4" y="16.9" font-size="11" fill="#131722" textLength="22.1" lengthAdjust="spacingAndGlyphs" font-family="Liberation Sans, sans-serif">2026</text>
<text stroke="#131722" stroke-width="0.1" x="284.4" y="16.9" font-size="11" fill="#131722" textLength="24.8" lengthAdjust="spacingAndGlyphs" font-family="Liberation Sans, sans-serif">13:18</text>
<text stroke="#131722" stroke-width="0.1" x="313.1" y="16.9" font-size="11" fill="#131722" textLength="18.5" lengthAdjust="spacingAndGlyphs" font-family="Liberation Sans, sans-serif">UTC</text>
<circle cx="45.7" cy="36.3" r="0.75" fill="#131722"/><circle cx="67.2" cy="36.3" r="0.75" fill="#131722"/>
<text stroke="#131722" stroke-width="0.1" x="16.6" y="39.8" font-size="11" fill="#131722" textLength="24.1" lengthAdjust="spacingAndGlyphs" font-family="Liberation Sans, sans-serif">TRON</text>
<text stroke="#131722" stroke-width="0.1" x="52.0" y="39.8" font-size="11" fill="#131722" textLength="10.3" lengthAdjust="spacingAndGlyphs" font-family="Liberation Sans, sans-serif">4h</text>
<text stroke="#131722" stroke-width="0.1" x="73.0" y="39.8" font-size="11" fill="#131722" textLength="35.7" lengthAdjust="spacingAndGlyphs" font-family="Liberation Sans, sans-serif">CRYPTO</text>
<text stroke="#131722" stroke-width="0.1" x="116.1" y="39.8" font-size="11" fill="#131722" textLength="5.9" lengthAdjust="spacingAndGlyphs" font-family="Liberation Sans, sans-serif">O</text>
<text stroke="#da4350" stroke-width="0.1" x="122.9" y="39.8" font-size="11" fill="#da4350" textLength="79.6" lengthAdjust="spacingAndGlyphs" font-family="Liberation Sans, sans-serif">0.2963200000000</text>
<text stroke="#131722" stroke-width="0.1" x="209.9" y="39.8" font-size="11" fill="#131722" textLength="6.1" lengthAdjust="spacingAndGlyphs" font-family="Liberation Sans, sans-serif">H</text>
<text stroke="#da4350" stroke-width="0.1" x="216.6" y="39.8" font-size="11" fill="#da4350" textLength="79.1" lengthAdjust="spacingAndGlyphs" font-family="Liberation Sans, sans-serif">0.2963500000000</text>
<text stroke="#131722" stroke-width="0.1" x="303.0" y="39.8" font-size="11" fill="#131722" textLength="5.6" lengthAdjust="spacingAndGlyphs" font-family="Liberation Sans, sans-serif">L</text>
<text stroke="#da4350" stroke-width="0.1" x="309.5" y="39.8" font-size="11" fill="#da4350" textLength="79.1" lengthAdjust="spacingAndGlyphs" font-family="Liberation Sans, sans-serif">0.2956600000000</text>
<text stroke="#131722" stroke-width="0.1" x="396.1" y="39.8" font-size="11" fill="#131722" textLength="5.7" lengthAdjust="spacingAndGlyphs" font-family="Liberation Sans, sans-serif">C</text>
<text stroke="#da4350" stroke-width="0.1" x="402.0" y="39.8" font-size="11" fill="#da4350" textLength="80.0" lengthAdjust="spacingAndGlyphs" font-family="Liberation Sans, sans-serif">0.2962400000000</text>
<text stroke="#da4350" stroke-width="0.1" x="489.0" y="39.8" font-size="11" fill="#da4350" textLength="85.0" lengthAdjust="spacingAndGlyphs" font-family="Liberation Sans, sans-serif">−0.0000800000000</text>
<text stroke="#da4350" stroke-width="0.1" x="578.7" y="39.8" font-size="11" fill="#da4350" textLength="38.6" lengthAdjust="spacingAndGlyphs" font-family="Liberation Sans, sans-serif">(−0.03%)</text>
<text x="925.3" y="54.8" font-size="10.5" fill="#131722" stroke="#131722" stroke-width="0.18" textLength="81" lengthAdjust="spacingAndGlyphs" font-family="Liberation Sans, sans-serif">0.3000000000000</text>
<text x="925.3" y="84.0" font-size="10.5" fill="#131722" stroke="#131722" stroke-width="0.18" textLength="81" lengthAdjust="spacingAndGlyphs" font-family="Liberation Sans, sans-serif">0.2980000000000</text>
<text x="925.3" y="113.1" font-size="10.5" fill="#131722" stroke="#131722" stroke-width="0.18" textLength="81" lengthAdjust="spacingAndGlyphs" font-family="Liberation Sans, sans-serif">0.2960000000000</text>
<text x="925.3" y="142.3" font-size="10.5" fill="#131722" stroke="#131722" stroke-width="0.18" textLength="81" lengthAdjust="spacingAndGlyphs" font-family="Liberation Sans, sans-serif">0.2940000000000</text>
<text x="925.3" y="171.5" font-size="10.5" fill="#131722" stroke="#131722" stroke-width="0.18" textLength="81" lengthAdjust="spacingAndGlyphs" font-family="Liberation Sans, sans-serif">0.2920000000000</text>
<text x="925.3" y="200.7" font-size="10.5" fill="#131722" stroke="#131722" stroke-width="0.18" textLength="81" lengthAdjust="spacingAndGlyphs" font-family="Liberation Sans, sans-serif">0.2900000000000</text>
<text x="925.3" y="229.8" font-size="10.5" fill="#131722" stroke="#131722" stroke-width="0.18" textLength="81" lengthAdjust="spacingAndGlyphs" font-family="Liberation Sans, sans-serif">0.2880000000000</text>
<text x="925.3" y="259.0" font-size="10.5" fill="#131722" stroke="#131722" stroke-width="0.18" textLength="81" lengthAdjust="spacingAndGlyphs" font-family="Liberation Sans, sans-serif">0.2860000000000</text>
<text x="925.3" y="288.2" font-size="10.5" fill="#131722" stroke="#131722" stroke-width="0.18" textLength="81" lengthAdjust="spacingAndGlyphs" font-family="Liberation Sans, sans-serif">0.2840000000000</text>
<text x="925.3" y="317.3" font-size="10.5" fill="#131722" stroke="#131722" stroke-width="0.18" textLength="81" lengthAdjust="spacingAndGlyphs" font-family="Liberation Sans, sans-serif">0.2820000000000</text>
<text x="925.3" y="346.5" font-size="10.5" fill="#131722" stroke="#131722" stroke-width="0.18" textLength="81" lengthAdjust="spacingAndGlyphs" font-family="Liberation Sans, sans-serif">0.2800000000000</text>
<text x="925.3" y="375.7" font-size="10.5" fill="#131722" stroke="#131722" stroke-width="0.18" textLength="81" lengthAdjust="spacingAndGlyphs" font-family="Liberation Sans, sans-serif">0.2780000000000</text>
<text x="925.3" y="404.8" font-size="10.5" fill="#131722" stroke="#131722" stroke-width="0.18" textLength="81" lengthAdjust="spacingAndGlyphs" font-family="Liberation Sans, sans-serif">0.2760000000000</text>
<text x="925.3" y="434.0" font-size="10.5" fill="#131722" stroke="#131722" stroke-width="0.18" textLength="81" lengthAdjust="spacingAndGlyphs" font-family="Liberation Sans, sans-serif">0.2740000000000</text>
<text x="925.3" y="463.2" font-size="10.5" fill="#131722" stroke="#131722" stroke-width="0.18" textLength="81" lengthAdjust="spacingAndGlyphs" font-family="Liberation Sans, sans-serif">0.2720000000000</text>
<text x="925.3" y="492.4" font-size="10.5" fill="#131722" stroke="#131722" stroke-width="0.18" textLength="81" lengthAdjust="spacingAndGlyphs" font-family="Liberation Sans, sans-serif">0.2700000000000</text>
<path d="M918.4 98.7 H1008.8 Q1010.8 98.7 1010.8 100.7 V125.7 H918.4 Z" fill="#f23645"/>
<path d="M918.4 125.7 H1010.8 V137.6 Q1010.8 139.6 1008.8 139.6 H918.4 Z" fill="#2962ff"/>
<path d="M918.4 176.3 H1008.8 Q1010.8 176.3 1010.8 178.3 V188.5 Q1010.8 190.5 1008.8 190.5 H918.4 Z" fill="#f23645"/>
<text stroke="#fff" stroke-width="0.1" x="924.8" y="110" font-size="10.5" fill="#fff" textLength="80.6" lengthAdjust="spacingAndGlyphs" font-family="Liberation Sans, sans-serif">0.2962400000000</text>
<text stroke="#fde3e6" stroke-width="0.1" x="924.8" y="121.7" font-size="10.5" fill="#fde3e6" textLength="40.6" lengthAdjust="spacingAndGlyphs" font-family="Liberation Sans, sans-serif">02:41:35</text>
<text stroke="#fff" stroke-width="0.1" x="924.8" y="136.6" font-size="10.5" fill="#fff" textLength="80.6" lengthAdjust="spacingAndGlyphs" font-family="Liberation Sans, sans-serif">0.2943980952381</text>
<text stroke="#fff" stroke-width="0.1" x="924.8" y="187.9" font-size="10.5" fill="#fff" textLength="80.6" lengthAdjust="spacingAndGlyphs" font-family="Liberation Sans, sans-serif">0.2909256000000</text>
<text x="30.5" y="534.3" font-size="11" fill="#131722" stroke="#131722" stroke-width="0.3" text-anchor="middle" textLength="10.7" lengthAdjust="spacingAndGlyphs" font-family="Liberation Sans, sans-serif">13</text>
<text x="93.3" y="534.3" font-size="11" fill="#131722" stroke="#131722" stroke-width="0.3" text-anchor="middle" textLength="10.7" lengthAdjust="spacingAndGlyphs" font-family="Liberation Sans, sans-serif">15</text>
<text x="156.1" y="534.3" font-size="11" fill="#131722" stroke="#131722" stroke-width="0.3" text-anchor="middle" textLength="10.7" lengthAdjust="spacingAndGlyphs" font-family="Liberation Sans, sans-serif">17</text>
<text x="218.9" y="534.3" font-size="11" fill="#131722" stroke="#131722" stroke-width="0.3" text-anchor="middle" textLength="10.7" lengthAdjust="spacingAndGlyphs" font-family="Liberation Sans, sans-serif">19</text>
<text x="281.7" y="534.3" font-size="11" fill="#131722" stroke="#131722" stroke-width="0.3" text-anchor="middle" textLength="10.7" lengthAdjust="spacingAndGlyphs" font-family="Liberation Sans, sans-serif">21</text>
<text x="344.5" y="534.3" font-size="11" fill="#131722" stroke="#131722" stroke-width="0.3" text-anchor="middle" textLength="10.7" lengthAdjust="spacingAndGlyphs" font-family="Liberation Sans, sans-serif">23</text>
<text x="407.3" y="534.3" font-size="11" fill="#131722" stroke="#131722" stroke-width="0.3" text-anchor="middle" textLength="10.7" lengthAdjust="spacingAndGlyphs" font-family="Liberation Sans, sans-serif">25</text>
<text x="470.1" y="534.3" font-size="11" fill="#131722" stroke="#131722" stroke-width="0.3" text-anchor="middle" textLength="10.7" lengthAdjust="spacingAndGlyphs" font-family="Liberation Sans, sans-serif">27</text>
<text x="532.9" y="534.3" font-size="11" fill="#131722" stroke="#131722" stroke-width="0.3" text-anchor="middle" textLength="10.7" lengthAdjust="spacingAndGlyphs" font-family="Liberation Sans, sans-serif">29</text>
<text stroke="#131722" stroke-width="0.1" x="627.1" y="534.3" font-size="11" font-weight="bold" fill="#131722" text-anchor="middle" textLength="23.6" lengthAdjust="spacingAndGlyphs" font-family="Liberation Sans, sans-serif">2026</text>
<text x="689.9" y="534.3" font-size="11" fill="#131722" stroke="#131722" stroke-width="0.3" text-anchor="middle" textLength="5.3" lengthAdjust="spacingAndGlyphs" font-family="Liberation Sans, sans-serif">3</text>
<text x="752.7" y="534.3" font-size="11" fill="#131722" stroke="#131722" stroke-width="0.3" text-anchor="middle" textLength="5.3" lengthAdjust="spacingAndGlyphs" font-family="Liberation Sans, sans-serif">5</text>
<text x="815.5" y="534.3" font-size="11" fill="#131722" stroke="#131722" stroke-width="0.3" text-anchor="middle" textLength="5.3" lengthAdjust="spacingAndGlyphs" font-family="Liberation Sans, sans-serif">7</text>
<text x="878.3" y="534.3" font-size="11" fill="#131722" stroke="#131722" stroke-width="0.3" text-anchor="middle" textLength="5.3" lengthAdjust="spacingAndGlyphs" font-family="Liberation Sans, sans-serif">9</text>
<g transform="translate(863,506.9)"><path d="M5.0 -6.5 A8.2 8.2 0 1 0 7.8 -2.6" fill="none" stroke="#a057c6" stroke-width="1.4"/><circle cx="6.1" cy="-5.8" r="2.4" fill="#e0404c"/><path d="M1.6 -4.6 L-3.3 1.1 L-0.2 1.1 L-2.0 4.9 L3.3 -0.9 L0.3 -0.9 Z" fill="#9646c2"/></g>
<g transform="translate(893.9,506.75)"><circle r="8.9" fill="#fff" stroke="#d9505d" stroke-width="1.4"/><clipPath id="fc"><circle r="7.0"/></clipPath><g clip-path="url(#fc)"><rect x="-8" y="-8" width="16" height="16" fill="#fff"/><rect x="2" y="-1.6" width="6" height="3" fill="#e0505c"/><rect x="-8" y="3.9" width="16" height="4" fill="#e0505c"/><rect x="-8" y="-8" width="10" height="9.4" fill="#3f7fd6"/><g fill="#cfe0f7"><circle cx="-4.5" cy="-3.5" r="0.35"/><circle cx="-2" cy="-3.5" r="0.35"/><circle cx="0.5" cy="-3.5" r="0.35"/><circle cx="-4.5" cy="-1" r="0.35"/><circle cx="-2" cy="-1" r="0.35"/><circle cx="0.5" cy="-1" r="0.35"/></g></g></g>
<g fill="#0e0e0e"><path d="M10.46 561.9 H20.76 V574.75 H16.0 V566.8 H10.46 Z"/><circle cx="25.4" cy="564.4" r="2.45"/><path d="M29.8 562.1 H36.1 L31.7 574.75 H25.8 Z"/></g>
<text x="43.2" y="574.9" font-size="17.5" font-weight="bold" fill="#0e0e0e" textLength="104.2" lengthAdjust="spacingAndGlyphs" font-family="Liberation Sans, sans-serif">TradingView</text>
</svg></body></html>
